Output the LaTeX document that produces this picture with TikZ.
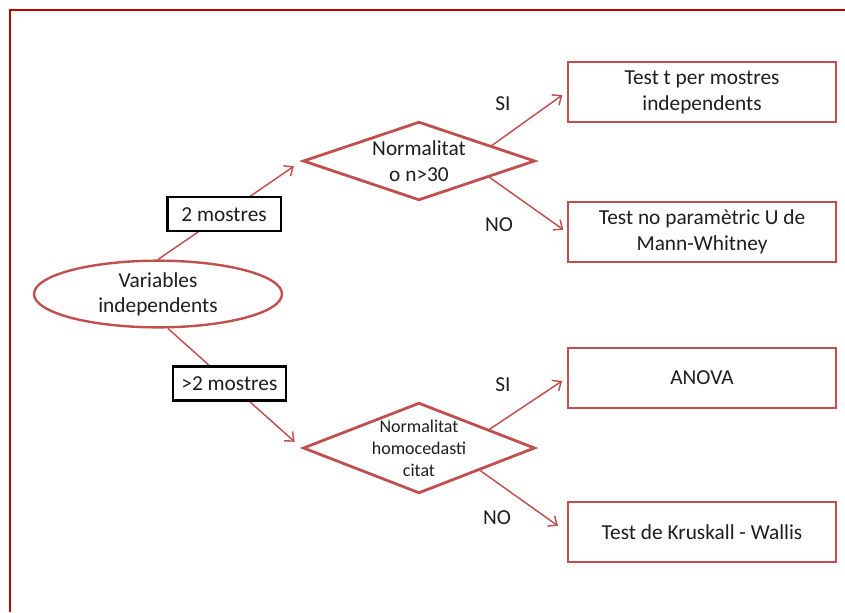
\documentclass[tikz,border=0pt]{standalone}
\usepackage{fontspec}
\setmainfont{Carlito}
\usepackage{tikz}
\usetikzlibrary{arrows.meta, shapes.geometric, positioning, calc}
\definecolor{accred}{RGB}{192,80,77}
\definecolor{framered}{RGB}{192,0,0}
\definecolor{inktext}{RGB}{30,30,30}

\begin{document}
\begin{tikzpicture}[x=0.75pt, y=-0.75pt,
  result/.style={rectangle, draw=accred, line width=2.1pt, fill=white,
              minimum width=201pt, minimum height=45pt, align=center, text=inktext,
              font=\fontsize{16}{19.5}\selectfont},
  choice/.style={diamond, draw=accred, line width=2.1pt, fill=white, inner sep=-4pt,
              minimum width=174pt, aspect=2.6, align=center, text=inktext},
  start/.style={ellipse, draw=accred, line width=1.8pt, fill=white,
              minimum width=186pt, minimum height=50pt, inner sep=0pt, align=center,
              text=inktext, font=\fontsize{16}{19}\selectfont},
  tag/.style={rectangle, draw=black, line width=1.8pt, fill=white,
              minimum width=85pt, minimum height=25.5pt, inner sep=0pt,
              text=inktext, font=\fontsize{16}{19}\selectfont},
  answer/.style={font=\fontsize{16}{19}\selectfont, inner sep=0pt, text=inktext},
  arrow/.style={-{Straight Barb[length=5.5pt, width=9.5pt]}, draw=accred, line width=1.1pt},
  frame/.style={draw=framered, line width=1.6pt},
]
\useasboundingbox (0,0) rectangle (845,612);
\draw[frame] (845,10) -| (10,612);

\node[start]  (var) at (158,294) {Variables\\independents};
\node[choice, minimum height=59pt, font=\fontsize{16}{20}\selectfont]
              (norm) at (419,161) {Normalitat\\o n>30};
\node[choice, minimum height=68pt, font=\fontsize{13.5}{16.5}\selectfont]
              (homo) at (419,448) {Normalitat\\homocedasti\\citat};
\node[result] (ttest)   at (702,92)  {Test t per mostres\\independents};
\node[result] (mann)    at (702,232) {Test no paramètric U de\\Mann-Whitney};
\node[result] (anova)   at (702,378) {ANOVA};
\node[result] (kruskal) at (702,532) {Test de Kruskall - Wallis};

\draw[arrow, shorten >=7pt] (var.north) -- node[tag, pos=0.46] (two) {2 mostres} (norm.west);
\draw[arrow, shorten >=7pt] (var.-74) -- node[tag, pos=0.46] (more) {>2 mostres} (homo.west);

\draw[arrow, shorten >=4pt] ($(norm.north)!0.62!(norm.east)$) -- (ttest.west);
\draw[arrow, shorten >=3pt] ($(norm.south)!0.6!(norm.east)$) -- (mann.west);
\draw[arrow, shorten >=4pt] ($(homo.north)!0.6!(homo.east)$) -- (anova.west);
\draw[arrow, shorten >=8pt] ($(homo.south)!0.52!(homo.east)$) -- (kruskal.west);

\node[answer] (si1) at (503,104) {SI};
\node[answer] (no1) at (499,225) {NO};
\node[answer] (si2) at (503,385) {SI};
\node[answer] (no2) at (497,518) {NO};
\end{tikzpicture}
\end{document}
